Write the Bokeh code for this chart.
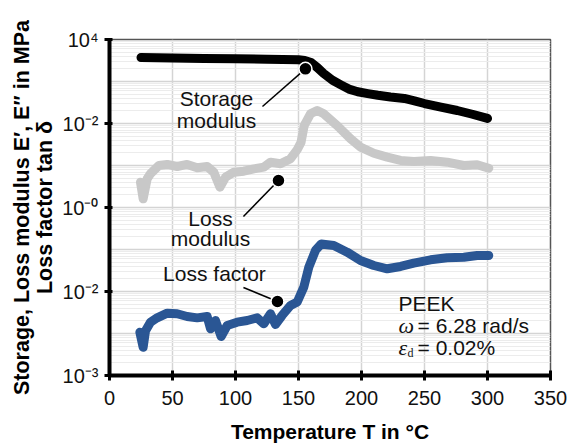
from bokeh.plotting import figure
from bokeh.models import FixedTicker, Label, Range1d
from bokeh.embed import file_html
from bokeh.resources import INLINE

# ---------------- data ----------------
storage_T = [25, 50, 75, 100, 125, 150, 155, 160, 165, 170, 177, 184, 190, 197, 205, 213,
             223, 234, 242, 250, 263, 276, 288, 300]
storage_E = [3720, 3630, 3550, 3470, 3390, 3290, 3160, 2820, 2140, 1550, 1070, 820, 660, 570,
             515, 470, 427, 394, 347, 299, 245, 204, 166, 132]

loss_T = [24.6, 26.7, 29.9, 32.5, 39.2, 45.8, 53.7, 61.6, 69.6, 77.5, 82.8, 87.6, 92.1, 98.7,
          106.6, 114.6, 122.5, 127.8, 135.7, 143.7, 149, 152, 154.5, 159.5, 164.8, 170.1,
          180.7, 191.3, 199.2, 209.8, 220.4, 231, 241.5, 254.8, 268, 281.2, 291.8, 301]
loss_E = [4.0, 1.61, 4.82, 6.34, 10.0, 10.6, 9.46, 10.6, 8.81, 9.46, 6.92, 3.05, 5.27, 6.92,
          7.33, 8.32, 9.12, 12.0, 11.0, 14.5, 24.0, 35.5, 89, 170, 204, 170,
          89, 43.3, 27.3, 19.6, 15.8, 13.2, 12.4, 13.2, 12.0, 10.0, 10.4, 8.6]

tand_T = [24.1, 26.7, 28.6, 32.5, 37.8, 45.8, 53.7, 61.6, 69.6, 77.5, 80.2, 84.1, 88.6, 93.4,
          101.3, 109.3, 117.2, 122.5, 127.8, 131.7, 137, 143.7, 149, 154.2, 158.2, 163.5,
          168, 178, 188.6, 199.2, 209.8, 220.4, 231, 241.5, 254.8, 268, 281.2, 291.8, 301]
tand_v = [0.00107, 0.00047, 0.00117, 0.00186, 0.00236, 0.00305, 0.00295, 0.00254, 0.00236,
          0.00254, 0.00129, 0.00204, 0.00085, 0.00155, 0.00186, 0.00204, 0.00236, 0.00170,
          0.00295, 0.00164, 0.00269, 0.00465, 0.00562, 0.0127, 0.0379, 0.0955, 0.135, 0.124,
          0.0863, 0.0547, 0.0416, 0.0347, 0.0394, 0.0472, 0.0569, 0.0634, 0.0656, 0.0719, 0.0719]

x_ticks = [0, 50, 100, 150, 200, 250, 300, 350]
y_ticks = [1e-4, 1e-2, 1, 1e2, 1e4]
y_tick_labels = ["10⁻³", "10⁻²", "10⁻⁰", "10⁻²", "10⁴"]
decades = [1e-4, 1e-3, 1e-2, 1e-1, 1, 10, 100, 1000, 10000]

FONT = "Liberation Sans"

p = figure(width=568, height=447, x_range=Range1d(0, 350), y_range=Range1d(1e-4, 1e4),
           y_axis_type="log", output_backend="svg", toolbar_location=None,
           min_border_left=109, min_border_right=18, min_border_top=39, min_border_bottom=72,
           background_fill_color="white", border_fill_color="white")

p.outline_line_color = "#555555"
p.outline_line_width = 1.5

# grids
p.xgrid.ticker = FixedTicker(ticks=x_ticks)
p.xgrid.grid_line_color = "#d4d4d4"
p.xgrid.grid_line_width = 1.5
minors = []
for d in decades[:-1]:
    for k in range(2, 10):
        minors.append(d * k)
p.ygrid.ticker = FixedTicker(ticks=decades, minor_ticks=minors)
p.ygrid.grid_line_color = "#d4d4d4"
p.ygrid.grid_line_width = 1.5
p.ygrid.minor_grid_line_color = "#ececec"
p.ygrid.minor_grid_line_width = 1

# axes
p.xaxis.ticker = FixedTicker(ticks=x_ticks)
p.yaxis.ticker = FixedTicker(ticks=y_ticks)
p.yaxis.major_label_overrides = {0.0001: y_tick_labels[0], 0.01: y_tick_labels[1], 1: y_tick_labels[2],
                                 100: y_tick_labels[3], 10000: y_tick_labels[4]}
for ax in (p.xaxis[0], p.yaxis[0]):
    ax.axis_line_width = 4
    ax.axis_line_color = "black"
    ax.major_tick_line_width = 3
    ax.major_tick_line_color = "black"
    ax.minor_tick_line_color = None
    ax.major_label_text_font = FONT
    ax.major_label_text_font_size = "20px"
    ax.major_label_text_color = "#111111"
p.xaxis.major_tick_in = 5
p.xaxis.major_tick_out = 5
p.yaxis.major_tick_in = 3
p.yaxis.major_tick_out = 5
p.xaxis.major_label_standoff = 10
p.yaxis.major_label_standoff = 6

p.xaxis.axis_label = "Temperature T in °C"
p.xaxis.axis_label_text_font = FONT
p.xaxis.axis_label_text_font_size = "21px"
p.xaxis.axis_label_text_font_style = "bold"
p.xaxis.axis_label_text_color = "black"
p.xaxis.axis_label_standoff = 12

p.yaxis.axis_label = "Storage, Loss modulus E′, E′′ in MPa\nLoss factor tan δ"
p.yaxis.axis_label_text_font = FONT
p.yaxis.axis_label_text_font_size = "21.5px"
p.yaxis.axis_label_text_font_style = "bold"
p.yaxis.axis_label_text_color = "black"
p.yaxis.axis_label_text_line_height = 0.95
p.yaxis.axis_label_text_align = "center"
p.yaxis.axis_label_standoff = 2

# curves
p.line(loss_T, loss_E, line_color="#c8c8c8", line_width=9, line_cap="round", line_join="round")
p.line(tand_T, tand_v, line_color="#2a5694", line_width=9, line_cap="round", line_join="round")
p.line(storage_T, storage_E, line_color="black", line_width=9, line_cap="round", line_join="round")

# leader lines and dots
p.segment(x0=[155.5, 134.1, 133.3], y0=[2000, 4.4, 0.00578],
          x1=[121.4, 106.3, 106.3], y1=[254, 0.61, 0.01245], line_color="black", line_width=1.5)
p.scatter(x=[155.5, 134.1, 133.3], y=[2000, 4.4, 0.00578], size=13, fill_color="black",
          line_color="white", line_width=1.5)

def lab(x, y, text, size="21px", align="center", font=FONT, style="normal", xo=0, yo=0):
    p.add_layout(Label(x=x, y=y, text=text, text_align=align, text_baseline="middle",
                       text_font=font, text_font_size=size, text_font_style=style,
                       text_color="#111111", x_offset=xo, y_offset=yo))

lab(84.9, 10 ** 2.595, "Storage")
lab(84.9, 10 ** 2.07, "modulus")
lab(80.2, 10 ** -0.262, "Loss")
lab(80.2, 10 ** -0.74, "modulus")
lab(83.3, 10 ** -1.571, "Loss factor")

lab(229.4, 10 ** -2.286, "PEEK", align="left")
lab(229.4, 10 ** -2.81, "ω", align="left", font="Liberation Serif", style="italic", size="22px")
lab(229.4, 10 ** -2.81, "= 6.28 rad/s", align="left", xo=19)
lab(229.4, 10 ** -3.333, "ε", align="left", font="Liberation Serif", style="italic", size="22px")
lab(229.4, 10 ** -3.333, "d", align="left", font="Liberation Serif", size="12px", xo=9, yo=-6)
lab(229.4, 10 ** -3.333, "= 0.02%", align="left", xo=19)

open("out.html", "w").write(file_html(p, INLINE))
